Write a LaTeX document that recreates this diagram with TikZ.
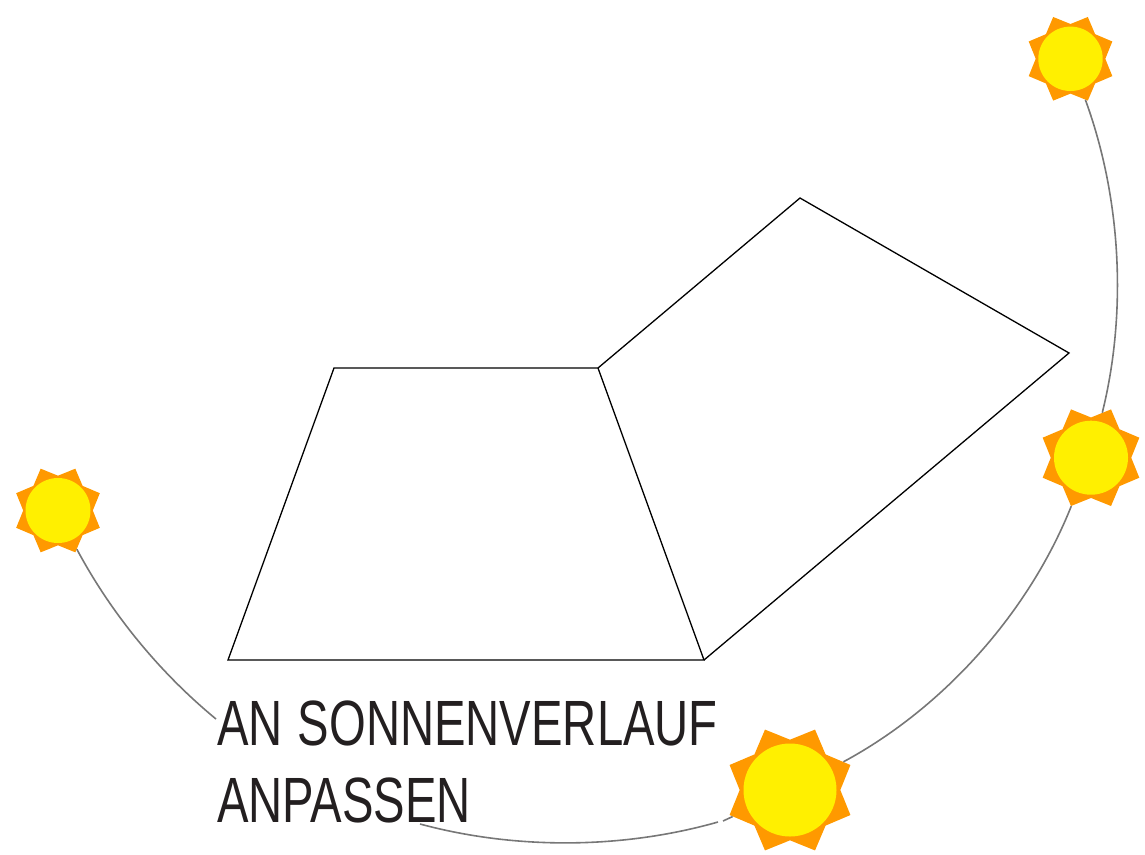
\documentclass[tikz,border=0pt]{standalone}
\usepackage{fontspec}
\setmainfont[FakeStretch=0.738,WordSpace=1.15]{Liberation Sans}
\usetikzlibrary{positioning,shapes.geometric}
\definecolor{rayorange}{HTML}{FF9900}
\definecolor{sunyellow}{HTML}{FFF000}
\definecolor{pathgray}{HTML}{777777}
\definecolor{captionblack}{HTML}{231F20}

\begin{document}
\begin{tikzpicture}[
    x=1pt, y=-1pt,
    rays/.style={star, star points=8, star point ratio=1.3, shape border rotate=22.5,
        fill=rayorange, inner sep=0pt, minimum size=#1},
    disc/.style={circle, fill=sunyellow, inner sep=0pt, minimum size=#1},
    sunpath/.style={draw=pathgray, line width=1.6pt, looseness=0.85},
    roof/.style={draw=black, line width=1.3pt, line join=miter},
    caption/.style={font=\fontsize{64}{77}\selectfont, text=captionblack, align=left, inner sep=0pt}
]
\useasboundingbox (0,0) rectangle (1145,854);

% roof planes
\coordinate (eaveL) at (228,660);
\coordinate (ridgeL) at (334,368);
\coordinate (ridgeR) at (598,368);
\coordinate (eaveR) at (704,660);
\coordinate (hipT) at (800,198);
\coordinate (hipR) at (1069,353);
\draw[roof] (eaveL) -- (ridgeL) -- (ridgeR) -- (eaveR) -- cycle;
\draw[roof] (ridgeR) -- (hipT) -- (hipR) -- (eaveR);

% suns
\node[rays=90.5pt] (raysTop) at (1070.5,58.8) {};
\node[rays=104.6pt] (raysMid) at (1091,457.7) {};
\node[rays=130.8pt] (raysBig) at (790,790) {};
\node[rays=90.5pt] (raysLeft) at (58,510.5) {};
\node[disc=64.4pt] (discTop) at (raysTop) {};
\node[disc=74pt] (discMid) at (raysMid) {};
\node[disc=93pt] (discBig) at (raysBig) {};
\node[disc=65pt] (discLeft) at (raysLeft) {};

% caption
\node[caption, anchor=south west] (caption) at (217,823) {AN SONNENVERLAUF\\ANPASSEN};

% sun path
\coordinate (pathA) at (216,719);
\coordinate (pathB) at (420,824);
\coordinate (pathC) at (718,822);
\coordinate (pathD) at (723,821);
\draw[sunpath] (raysTop) to[bend left=17] (raysMid);
\draw[sunpath] (raysMid) to[bend left=20] (raysBig);
\draw[sunpath] (raysBig) -- (pathD);
\draw[sunpath] (pathC) to[bend left=15.5] (pathB);
\draw[sunpath] (pathA) to[bend left=11.2] (raysLeft);

\end{tikzpicture}
\end{document}
